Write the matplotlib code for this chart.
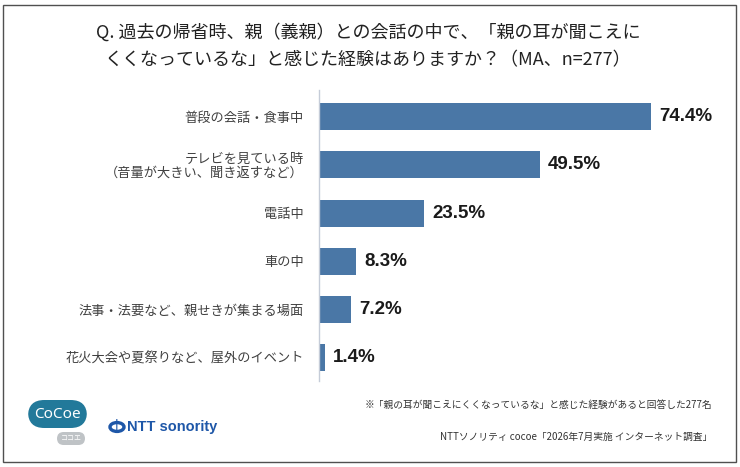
import matplotlib
matplotlib.use("Agg")
import matplotlib.pyplot as plt
from matplotlib.patches import Rectangle, FancyBboxPatch, Circle

plt.rcParams['font.family'] = ['Noto Sans CJK JP', 'DejaVu Sans']

categories = [
    "普段の会話・食事中",
    "テレビを見ている時\n（音量が大きい、聞き返すなど）",
    "電話中",
    "車の中",
    "法事・法要など、親せきが集まる場面",
    "花火大会や夏祭りなど、屋外のイベント",
]
values = [74.4, 49.5, 23.5, 8.3, 7.2, 1.4]
value_labels = ["74.4%", "49.5%", "23.5%", "8.3%", "7.2%", "1.4%"]

title = ("Q. 過去の帰省時、親（義親）との会話の中で、「親の耳が聞こえに\n"
         "くくなっているな」と感じた経験はありますか？（MA、n=277）")
note = "※「親の耳が聞こえにくくなっているな」と感じた経験があると回答した277名"
source = "NTTソノリティ cocoe「2026年7月実施 インターネット調査」"

W, H = 740, 467
fig = plt.figure(figsize=(W / 100, H / 100), dpi=100)
fig.patch.set_facecolor('white')

# outer frame
fig.patches.append(Rectangle((3 / W, 5 / H), 733 / W, 457 / H, transform=fig.transFigure,
                             fill=False, edgecolor='#505050', linewidth=1.0))

ax = fig.add_axes([319 / W, 1 - 381 / H, 357 / W, 291 / H])
y = list(range(len(categories)))
ax.barh(y, values, height=0.56, color='#4A77A6')
ax.set_xlim(0, 80)
ax.set_ylim(5.48, -0.55)
ax.set_yticks(y)
ax.set_yticklabels(categories, fontsize=9.5, color='#404040', linespacing=1.0, ha='right')
ax.tick_params(axis='y', length=0, pad=11)
ax.set_xticks([])
for s in ['top', 'right', 'bottom']:
    ax.spines[s].set_visible(False)
ax.spines['left'].set_color('#C5CCD8')
ax.spines['left'].set_linewidth(1.0)

for yi, v, lab in zip(y, values, value_labels):
    ax.text(v + 1.8, yi, lab, va='center', ha='left', fontsize=13.5,
            fontweight='bold', color='#1a1a1a', family='Liberation Sans')

fig.text(368 / W, 1 - 46 / H, title, ha='center', va='center', fontsize=13,
         color='#222222', linespacing=1.65)

fig.text(712 / W, 1 - 405 / H, note, ha='right', va='center', fontsize=7, color='#333333')
fig.text(712 / W, 1 - 437 / H, source, ha='right', va='center', fontsize=7, color='#333333')

# CoCoe logo
fig.patches.append(FancyBboxPatch((28 / W, 1 - 428 / H), 59 / W, 28 / H,
                                  boxstyle='round,pad=0,rounding_size=0.022',
                                  transform=fig.transFigure, facecolor='#22799A',
                                  edgecolor='none', mutation_aspect=W / H))
fig.text(57 / W, 1 - 414 / H, "CoCoe", ha='center', va='center', fontsize=11,
         color='white', family='Noto Sans')
fig.patches.append(FancyBboxPatch((57 / W, 1 - 445 / H), 28 / W, 13 / H,
                                  boxstyle='round,pad=0,rounding_size=0.009',
                                  transform=fig.transFigure, facecolor='#BFC3C6',
                                  edgecolor='none', mutation_aspect=W / H))
fig.text(71 / W, 1 - 438.5 / H, "ココエ", ha='center', va='center', fontsize=5, color='white')

# NTT sonority logo
fig.patches.append(Circle((117 / W, 1 - 427 / H), 0.0095, transform=fig.transFigure,
                          fill=False, edgecolor='#1E57A8', linewidth=2.4))
fig.text(117 / W, 1 - 425 / H, "|", ha='center', va='center', fontsize=7,
         color='#1E57A8', fontweight='bold', family='DejaVu Sans')
fig.text(127 / W, 1 - 427 / H, "NTT sonority", ha='left', va='center', fontsize=10.5,
         color='#1E57A8', fontweight='bold', family='Liberation Sans')

fig.savefig('out.png', dpi=100)
